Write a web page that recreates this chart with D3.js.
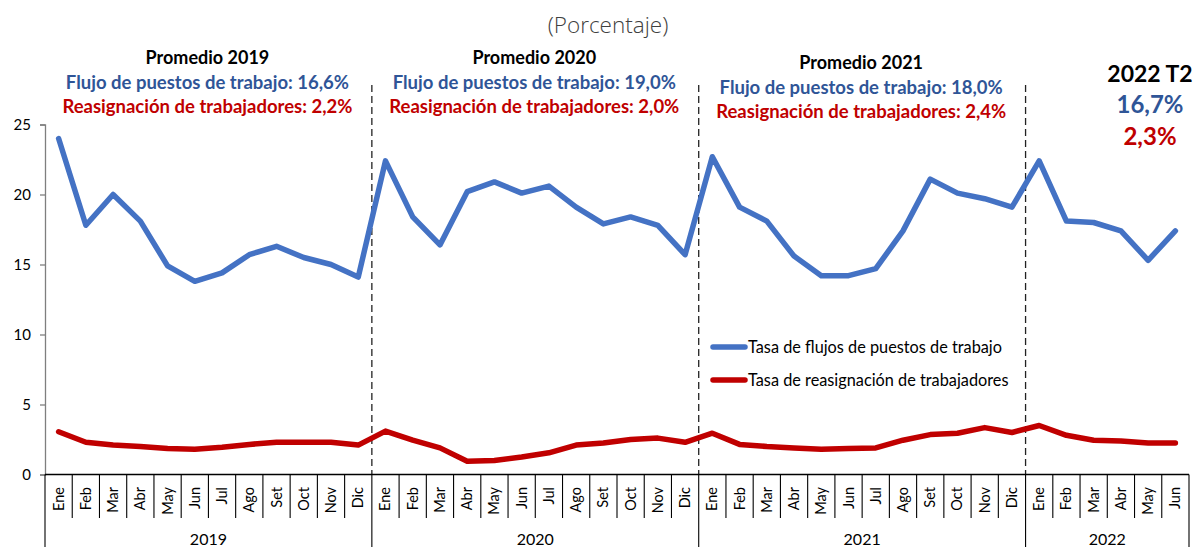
<!DOCTYPE html>
<html>
<head>
<meta charset="utf-8">
<script src="https://cdn.jsdelivr.net/npm/d3@7"></script>
<style>
  html, body { margin: 0; padding: 0; background: #fff; }
  svg { display: block; font-family: Lato, "Liberation Sans", sans-serif; }
</style>
</head>
<body>
<svg id="chart" width="1195" height="547"></svg>
<script>
// Month and year labels for the horizontal axis
const monthLabels = ["Ene","Feb","Mar","Abr","May","Jun","Jul","Ago","Set","Oct","Nov","Dic"];
const yearLabels = ["2019","2020","2021","2022"];
const monthsPerYear = [12, 12, 12, 6];

// Monthly rates (%), Jan 2019 - Jun 2022
const flujos = [
  24.0, 17.8, 20.0, 18.1, 14.9, 13.8, 14.4, 15.7, 16.3, 15.5, 15.0, 14.1,
  22.4, 18.4, 16.4, 20.2, 20.9, 20.1, 20.6, 19.1, 17.9, 18.4, 17.8, 15.7,
  22.7, 19.1, 18.1, 15.6, 14.2, 14.2, 14.7, 17.4, 21.1, 20.1, 19.7, 19.1,
  22.4, 18.1, 18.0, 17.4, 15.3, 17.4
];
const reasignacion = [
  3.05, 2.3, 2.1, 2.0, 1.85, 1.8, 1.95, 2.15, 2.3, 2.3, 2.3, 2.1,
  3.1, 2.45, 1.9, 0.95, 1.0, 1.25, 1.55, 2.1, 2.25, 2.5, 2.6, 2.3,
  2.95, 2.15, 2.0, 1.9, 1.8, 1.85, 1.9, 2.45, 2.85, 2.95, 3.35, 3.0,
  3.5, 2.8, 2.45, 2.4, 2.25, 2.25
];

// Yearly averages shown above each block
const promedioTitles = ["Promedio 2019", "Promedio 2020", "Promedio 2021"];
const promedioFlujo = ["16,6%", "19,0%", "18,0%"];
const promedioReasig = ["2,2%", "2,0%", "2,4%"];
const lastPeriod = "2022 T2";
const lastFlujo = "16,7%";
const lastReasig = "2,3%";

const yTicks = [0, 5, 10, 15, 20, 25];
const seriesNames = ["Tasa de flujos de puestos de trabajo", "Tasa de reasignación de trabajadores"];

const BLUE = "#4472C4", RED = "#C00000", BLUE_TXT = "#2F5597";

// Build the period list (year, month) in order
const periods = [];
yearLabels.forEach((yr, yi) => {
  for (let m = 0; m < monthsPerYear[yi]; m++) periods.push({ year: yr, month: monthLabels[m], key: yr + "-" + m });
});

const svg = d3.select("#chart");
const plotLeft = 45, plotRight = 1189, plotTop = 124.5, plotBottom = 474.5;

const x = d3.scaleBand().domain(periods.map(d => d.key)).range([plotLeft, plotRight]).padding(0);
const y = d3.scaleLinear().domain([0, 25]).range([plotBottom, plotTop]);
const cx = i => x(periods[i].key) + x.bandwidth() / 2;

// Subtitle
svg.append("text").attr("x", 608).attr("y", 33).attr("text-anchor", "middle")
  .attr("font-family", "'Open Sans', Lato, sans-serif")
  .attr("font-size", 22.5).attr("font-weight", 300).attr("fill", "#404040").text("(Porcentaje)");

// Year boundaries (dashed) inside the plot
let acc = 0;
const yearStarts = [];
monthsPerYear.forEach(n => { yearStarts.push(acc); acc += n; });
yearStarts.slice(1).forEach(s => {
  const xv = x(periods[s].key);
  svg.append("line").attr("x1", xv).attr("x2", xv).attr("y1", 85).attr("y2", plotBottom)
    .attr("stroke", "#222").attr("stroke-width", 1.3).attr("stroke-dasharray", "7,4");
});

// Y axis
const yAxis = d3.axisLeft(y).tickValues(yTicks).tickSize(5).tickPadding(9).tickFormat(d3.format("d"));
const gy = svg.append("g").attr("transform", `translate(${plotLeft},0)`).call(yAxis);
gy.select(".domain").attr("stroke", "#7f7f7f").attr("stroke-width", 1.3);
gy.selectAll(".tick line").attr("stroke", "#7f7f7f").attr("stroke-width", 1.3);
gy.selectAll(".tick text").attr("font-size", 15).attr("fill", "#000").attr("font-family", "Lato, 'Liberation Sans', sans-serif");

// X axis: baseline, month separators, year separators, labels
svg.append("line").attr("x1", plotLeft).attr("x2", plotRight).attr("y1", plotBottom).attr("y2", plotBottom)
  .attr("stroke", "#000").attr("stroke-width", 1.3);
periods.forEach((p, i) => {
  const xv = x(p.key);
  const isYearStart = yearStarts.includes(i);
  svg.append("line").attr("x1", xv).attr("x2", xv).attr("y1", plotBottom)
    .attr("y2", isYearStart ? 547 : 518).attr("stroke", "#000").attr("stroke-width", 1.1);
  svg.append("text")
    .attr("transform", `translate(${cx(i) + 5},487) rotate(-90)`)
    .attr("text-anchor", "end").attr("font-size", 14.5).attr("fill", "#000").text(p.month);
});
svg.append("line").attr("x1", plotRight).attr("x2", plotRight).attr("y1", plotBottom).attr("y2", 547)
  .attr("stroke", "#000").attr("stroke-width", 1.1);
yearLabels.forEach((yl, yi) => {
  const s = yearStarts[yi], e = s + monthsPerYear[yi] - 1;
  const mid = (x(periods[s].key) + x(periods[e].key) + x.bandwidth()) / 2;
  svg.append("text").attr("x", mid).attr("y", 545).attr("text-anchor", "middle")
    .attr("font-size", 16).attr("fill", "#000").text(yl);
});

// Series lines
const line = d3.line().x((d, i) => cx(i)).y(d => y(d));
[[flujos, BLUE], [reasignacion, RED]].forEach(([vals, col]) => {
  svg.append("path").datum(vals).attr("d", line).attr("fill", "none")
    .attr("stroke", col).attr("stroke-width", 5.5)
    .attr("stroke-linejoin", "round").attr("stroke-linecap", "round");
});

// Yearly averages
const blockOffsets = [0, 0, 5];
promedioTitles.forEach((t, i) => {
  const s = yearStarts[i], e = s + monthsPerYear[i] - 1;
  const mid = (x(periods[s].key) + x(periods[e].key) + x.bandwidth()) / 2 - 1;
  const dy = blockOffsets[i];
  svg.append("text").attr("x", mid).attr("y", 64 + dy).attr("text-anchor", "middle")
    .attr("font-size", 18).attr("font-weight", 700).attr("fill", "#000").text(t);
  svg.append("text").attr("x", mid).attr("y", 89 + dy).attr("text-anchor", "middle")
    .attr("font-size", 18.5).attr("font-weight", 700).attr("fill", BLUE_TXT)
    .text("Flujo de puestos de trabajo: " + promedioFlujo[i]);
  svg.append("text").attr("x", mid).attr("y", 113 + dy).attr("text-anchor", "middle")
    .attr("font-size", 18.5).attr("font-weight", 700).attr("fill", RED)
    .text("Reasignación de trabajadores: " + promedioReasig[i]);
});

// Latest quarter
svg.append("text").attr("x", 1150).attr("y", 82).attr("text-anchor", "middle")
  .attr("font-size", 23).attr("font-weight", 700).attr("fill", "#000").text(lastPeriod);
svg.append("text").attr("x", 1150).attr("y", 113).attr("text-anchor", "middle")
  .attr("font-size", 24).attr("font-weight", 700).attr("fill", BLUE_TXT).text(lastFlujo);
svg.append("text").attr("x", 1150).attr("y", 145).attr("text-anchor", "middle")
  .attr("font-size", 24).attr("font-weight", 700).attr("fill", RED).text(lastReasig);

// Legend
[[seriesNames[0], BLUE, 347], [seriesNames[1], RED, 380]].forEach(([name, col, ly]) => {
  svg.append("line").attr("x1", 713).attr("x2", 745).attr("y1", ly).attr("y2", ly)
    .attr("stroke", col).attr("stroke-width", 5.5).attr("stroke-linecap", "round");
  svg.append("text").attr("x", 748).attr("y", ly + 5.5).attr("font-size", 16.3)
    .attr("fill", "#000").text(name);
});
</script>
</body>
</html>
